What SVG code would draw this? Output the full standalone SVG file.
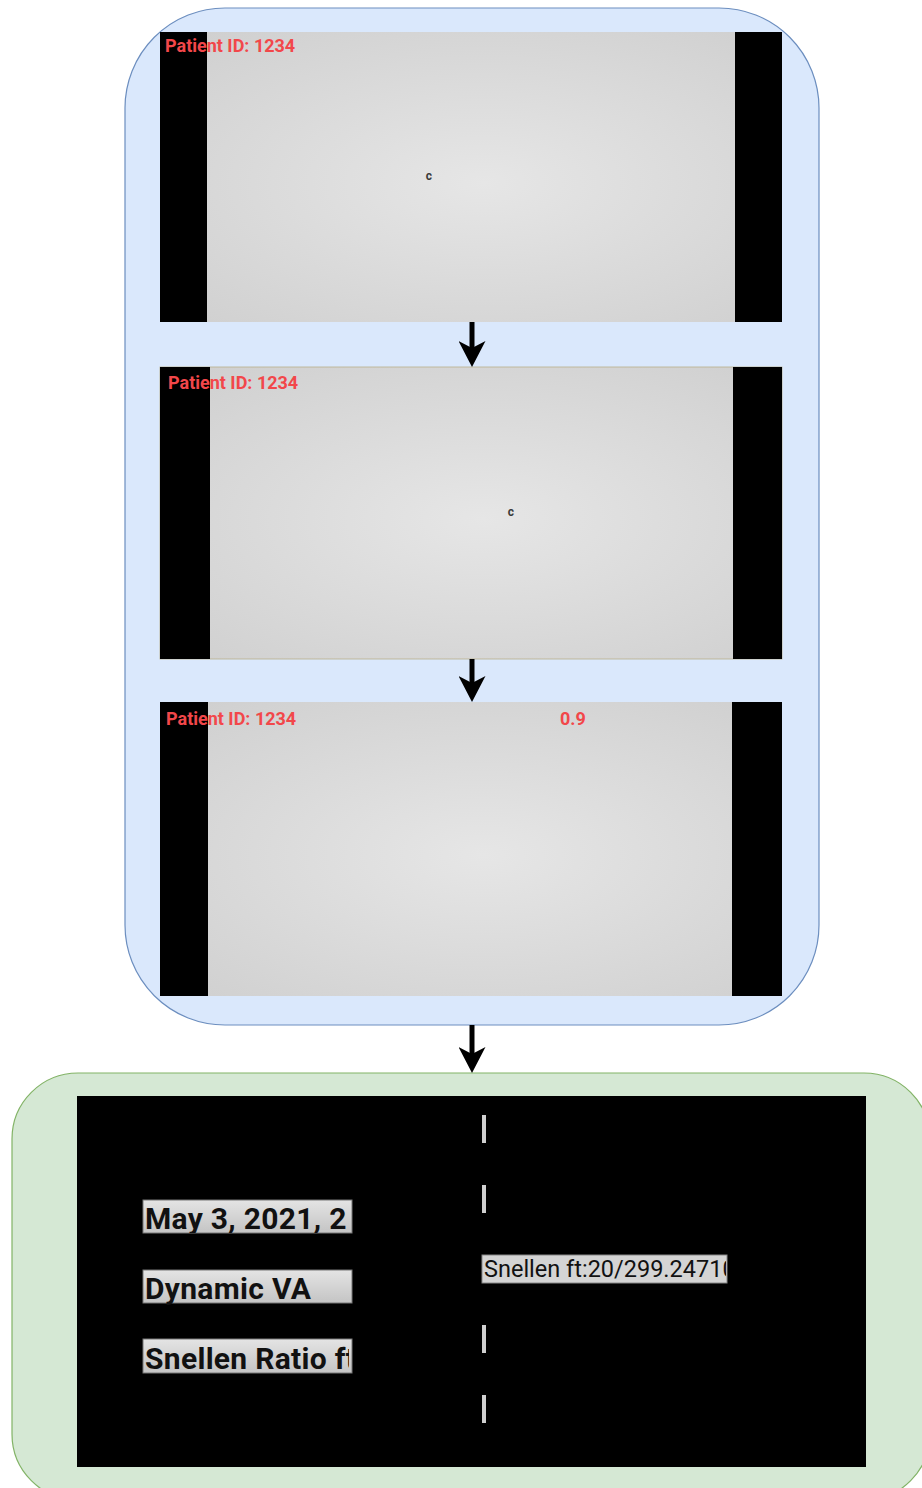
<svg xmlns="http://www.w3.org/2000/svg" width="922" height="1488" viewBox="0 0 922 1488">
  <style>
    .pid { font-family: Roboto, "Liberation Sans", sans-serif; font-weight: bold; font-size: 18px; fill: #f2474a; }
    .opt { font-family: Roboto, "Liberation Sans", sans-serif; font-weight: bold; font-size: 12px; fill: #3a3a3a; }
    .bar { fill: #000; }
    .lbl { font-family: Roboto, "Liberation Sans", sans-serif; font-weight: bold; font-size: 30px; letter-spacing: 0.3px; fill: #111; }
    .lblbox { fill: url(#btn); stroke: #777; stroke-width: 1; }
    .dash { fill: #d0d0d0; }
    .conn { stroke: #000; stroke-width: 5; fill: none; marker-end: url(#arrow); }
  </style>
  <defs>
    <radialGradient id="screen" cx="52%" cy="52%" r="68%">
      <stop offset="0" stop-color="#e6e6e6"/>
      <stop offset="1" stop-color="#d0d0d0"/>
    </radialGradient>
    <linearGradient id="btn" x1="0" y1="0" x2="0" y2="1">
      <stop offset="0" stop-color="#e4e4e4"/>
      <stop offset="1" stop-color="#c4c4c4"/>
    </linearGradient>
    <marker id="arrow" viewBox="0 0 26 27" refX="14" refY="13.5" markerWidth="26" markerHeight="27" orient="auto" markerUnits="userSpaceOnUse">
      <path d="M0,0 L26,13.5 L0,27 L7,13.5 Z" fill="#000"/>
    </marker>
  </defs>

  <!-- test sequence container -->
  <g id="sequence">
    <rect x="125" y="8" width="694" height="1017" rx="100" ry="100" fill="#dae8fc" stroke="#6c8ebf" stroke-width="1.2"/>
  </g>

  <!-- screen 1: optotype near centre -->
  <g id="screen1">
    <rect x="160" y="32" width="622" height="290" fill="url(#screen)"/>
    <rect class="bar" x="160" y="32" width="47" height="290"/>
    <rect class="bar" x="735" y="32" width="47" height="290"/>
    <text class="pid" x="165" y="52">Patient ID: 1234</text>
    <text class="opt" x="429" y="180" text-anchor="middle">c</text>
  </g>

  <!-- screen 2: optotype moved -->
  <g id="screen2">
    <rect x="160" y="367" width="622" height="292" fill="url(#screen)" stroke="#b8b08a" stroke-width="0.8"/>
    <rect class="bar" x="160" y="367" width="50" height="292"/>
    <rect class="bar" x="733" y="367" width="49" height="292"/>
    <text class="pid" x="168" y="389">Patient ID: 1234</text>
    <text class="opt" x="511" y="516" text-anchor="middle">c</text>
  </g>

  <!-- screen 3: score shown -->
  <g id="screen3">
    <rect x="160" y="702" width="622" height="294" fill="url(#screen)"/>
    <rect class="bar" x="160" y="702" width="48" height="294"/>
    <rect class="bar" x="732" y="702" width="50" height="294"/>
    <text class="pid" x="166" y="725">Patient ID: 1234</text>
    <text class="pid" x="560" y="725">0.9</text>
  </g>

  <!-- result container -->
  <g id="results">
    <rect x="12" y="1073" width="918" height="427" rx="66" ry="66" fill="#d5e8d4" stroke="#82b366" stroke-width="1.2"/>
    <rect x="77" y="1096" width="789" height="371" fill="#000"/>
    <rect class="dash" x="482" y="1115" width="4" height="28"/>
    <rect class="dash" x="482" y="1185" width="4" height="28"/>
    <rect class="dash" x="482" y="1325" width="4" height="28"/>
    <rect class="dash" x="482" y="1395" width="4" height="28"/>
  </g>

  <g id="label-date">
    <rect class="lblbox" x="143" y="1200" width="209" height="33"/>
    <svg x="143" y="1200" width="207" height="33" overflow="hidden">
      <text class="lbl" x="2" y="29">May 3, 2021, 2</text>
    </svg>
  </g>
  <g id="label-mode">
    <rect class="lblbox" x="143" y="1270" width="209" height="33"/>
    <text class="lbl" x="145" y="1299">Dynamic VA</text>
  </g>
  <g id="label-ratio">
    <rect class="lblbox" x="143" y="1339" width="209" height="34"/>
    <svg x="143" y="1339" width="206" height="34" overflow="hidden">
      <text class="lbl" x="2" y="30">Snellen Ratio ft</text>
    </svg>
  </g>
  <g id="label-snellen">
    <rect x="482" y="1255" width="245" height="28" fill="#d4d4d4" stroke="#888" stroke-width="1"/>
    <svg x="482" y="1255" width="244" height="28" overflow="hidden">
      <text x="2" y="22" font-family="Roboto, 'Liberation Sans', sans-serif" font-size="23.5" fill="#111">Snellen ft:20/299.24710</text>
    </svg>
  </g>

  <!-- flow arrows -->
  <g id="connectors">
    <line class="conn" x1="472" y1="322" x2="472" y2="355"/>
    <line class="conn" x1="472" y1="659" x2="472" y2="690"/>
    <line class="conn" x1="472" y1="1025" x2="472" y2="1061"/>
  </g>
</svg>
